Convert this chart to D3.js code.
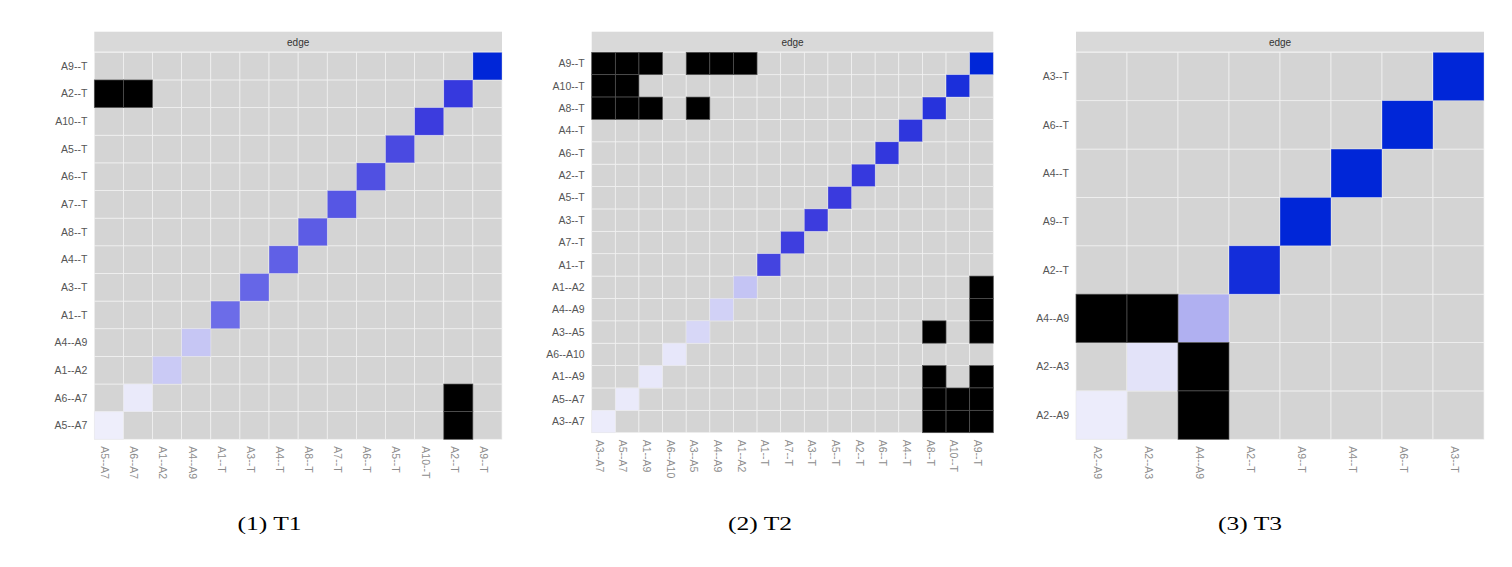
<!DOCTYPE html>
<html>
<head>
<meta charset="utf-8">
<script src="https://cdn.jsdelivr.net/npm/d3@7"></script>
<style>
  body { margin: 0; background: #fff; }
  svg { display: block; }
</style>
</head>
<body>
<div id="chart"></div>
<script>
// edges on the x axis, left to right (y axis uses the reverse order)
var t1Edges = ["A5--A7", "A6--A7", "A1--A2", "A4--A9", "A1--T", "A3--T", "A4--T",
               "A8--T", "A7--T", "A6--T", "A5--T", "A10--T", "A2--T", "A9--T"];
var t1Weights = [0.03, 0.05, 0.22, 0.24, 0.60, 0.63, 0.66, 0.68, 0.71, 0.74, 0.77, 0.84, 0.86, 1.0];
var t1Black = [["A2--T", "A5--A7"], ["A2--T", "A6--A7"],
               ["A6--A7", "A2--T"], ["A5--A7", "A2--T"]];

var t2Edges = ["A3--A7", "A5--A7", "A1--A9", "A6--A10", "A3--A5", "A4--A9", "A1--A2",
               "A1--T", "A7--T", "A3--T", "A5--T", "A2--T", "A6--T", "A4--T",
               "A8--T", "A10--T", "A9--T"];
var t2Weights = [0.04, 0.05, 0.06, 0.07, 0.15, 0.18, 0.25, 0.80, 0.83, 0.84, 0.85,
                 0.86, 0.87, 0.88, 0.90, 0.93, 1.0];
var t2Black = [["A9--T", "A3--A7"], ["A9--T", "A5--A7"], ["A9--T", "A1--A9"],
               ["A9--T", "A3--A5"], ["A9--T", "A4--A9"], ["A9--T", "A1--A2"],
               ["A10--T", "A3--A7"], ["A10--T", "A5--A7"],
               ["A8--T", "A3--A7"], ["A8--T", "A5--A7"], ["A8--T", "A1--A9"], ["A8--T", "A3--A5"],
               ["A1--A2", "A9--T"], ["A4--A9", "A9--T"],
               ["A3--A5", "A8--T"], ["A3--A5", "A9--T"],
               ["A1--A9", "A8--T"], ["A1--A9", "A9--T"],
               ["A5--A7", "A8--T"], ["A5--A7", "A10--T"], ["A5--A7", "A9--T"],
               ["A3--A7", "A8--T"], ["A3--A7", "A10--T"], ["A3--A7", "A9--T"]];

var t3Edges = ["A2--A9", "A2--A3", "A4--A9", "A2--T", "A9--T", "A4--T", "A6--T", "A3--T"];
var t3Weights = [0.04, 0.09, 0.33, 0.95, 1.0, 1.0, 1.0, 1.0];
var t3Black = [["A4--A9", "A2--A9"], ["A4--A9", "A2--A3"],
               ["A2--A3", "A4--A9"], ["A2--A9", "A4--A9"]];

var captions = ["(1) T1", "(2) T2", "(3) T3"];

var width = 1512, height = 567;

var svg = d3.select("#chart").append("svg")
    .attr("width", width)
    .attr("height", height);

var color = d3.scaleLinear()
    .domain([0, 0.25, 0.6, 0.85, 1])
    .range(["#f4f4fc", "#c4c4f4", "#6c6ce8", "#3a3ade", "#0026d8"]);

var panels = [
  {edges: t1Edges, weights: t1Weights, black: t1Black, left: 94.3, right: 502, bottom: 439.3, cap: 269.5},
  {edges: t2Edges, weights: t2Weights, black: t2Black, left: 591.7, right: 993.3, bottom: 432.7, cap: 760},
  {edges: t3Edges, weights: t3Weights, black: t3Black, left: 1076, right: 1484, bottom: 439.3, cap: 1250}
];
var stripTop = 31.7, plotTop = 52.3;

panels.forEach(function(p, i) {
  var g = svg.append("g");

  var x = d3.scaleBand().domain(p.edges).range([p.left, p.right]);
  var y = d3.scaleBand().domain(p.edges.slice().reverse()).range([plotTop, p.bottom]);

  // facet strip
  g.append("rect")
      .attr("x", p.left)
      .attr("y", stripTop)
      .attr("width", p.right - p.left)
      .attr("height", plotTop - stripTop - 0.6)
      .attr("fill", "#d9d9d9");
  g.append("text")
      .attr("x", (p.left + p.right) / 2)
      .attr("y", (stripTop + plotTop) / 2)
      .attr("dy", "0.35em")
      .attr("text-anchor", "middle")
      .style("font", "10px 'Liberation Sans', Arial, sans-serif")
      .attr("fill", "#333")
      .text("edge");

  // every cell of the grid
  var grid = [];
  p.edges.forEach(function(r) {
    p.edges.forEach(function(c) { grid.push({row: r, col: c}); });
  });
  g.selectAll(".cell")
    .data(grid)
    .enter().append("rect")
      .attr("class", "cell")
      .attr("x", function(d) { return x(d.col); })
      .attr("y", function(d) { return y(d.row); })
      .attr("width", x.bandwidth())
      .attr("height", y.bandwidth())
      .attr("fill", "#d4d4d4")
      .attr("stroke", "#f2f2f2")
      .attr("stroke-width", 0.7);

  // diagonal weights
  g.selectAll(".diag")
    .data(p.edges)
    .enter().append("rect")
      .attr("class", "diag")
      .attr("x", function(d) { return x(d); })
      .attr("y", function(d) { return y(d); })
      .attr("width", x.bandwidth())
      .attr("height", y.bandwidth())
      .attr("fill", function(d, j) { return color(p.weights[j]); })
      .attr("stroke", "#e8e8e8")
      .attr("stroke-opacity", 0.5)
      .attr("stroke-width", 0.7);

  // black cells
  g.selectAll(".blk")
    .data(p.black)
    .enter().append("rect")
      .attr("class", "blk")
      .attr("x", function(d) { return x(d[1]); })
      .attr("y", function(d) { return y(d[0]); })
      .attr("width", x.bandwidth())
      .attr("height", y.bandwidth())
      .attr("fill", "#000")
      .attr("stroke", "#555")
      .attr("stroke-width", 0.7);

  // y axis labels
  g.selectAll(".ylab")
    .data(y.domain())
    .enter().append("text")
      .attr("class", "ylab")
      .attr("x", p.left - 7)
      .attr("y", function(d) { return y(d) + y.bandwidth() / 2; })
      .attr("dy", "0.35em")
      .attr("text-anchor", "end")
      .style("font", "10.5px 'Liberation Sans', Arial, sans-serif")
      .attr("fill", "#555")
      .text(function(d) { return d; });

  // x axis labels, rotated
  g.selectAll(".xlab")
    .data(x.domain())
    .enter().append("text")
      .attr("class", "xlab")
      .attr("transform", function(d) {
        return "translate(" + (x(d) + x.bandwidth() / 2 - 4) + "," + (p.bottom + 7) + ") rotate(90)";
      })
      .attr("dy", "0.35em")
      .attr("text-anchor", "start")
      .style("font", "10.5px 'Liberation Sans', Arial, sans-serif")
      .attr("fill", "#8c8c8c")
      .text(function(d) { return d; });

  // caption
  svg.append("text")
      .attr("x", p.cap)
      .attr("y", 530)
      .attr("text-anchor", "middle")
      .attr("textLength", 64)
      .attr("lengthAdjust", "spacingAndGlyphs")
      .style("font", "18px 'Liberation Serif', 'Times New Roman', serif")
      .attr("fill", "#000")
      .text(captions[i]);
});
</script>
</body>
</html>
